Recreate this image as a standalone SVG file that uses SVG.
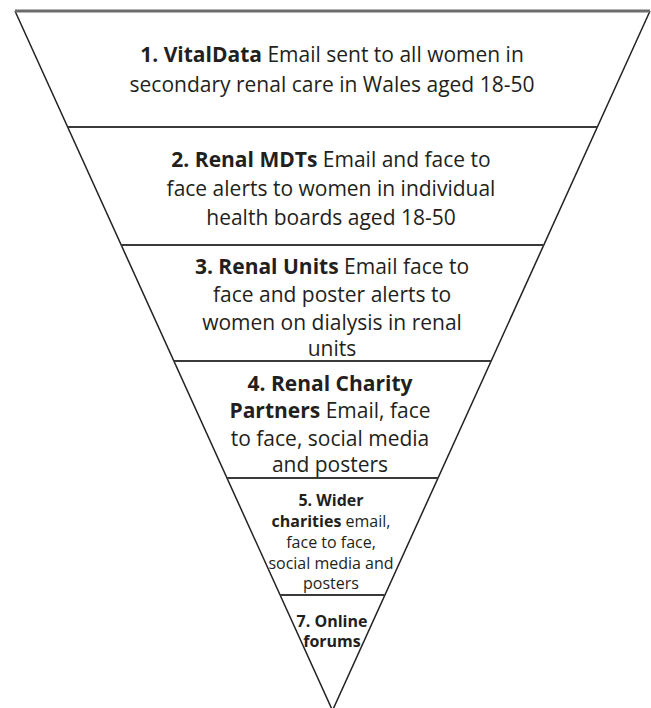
<svg xmlns="http://www.w3.org/2000/svg" width="651" height="708" viewBox="0 0 651 708">
<style>
.edge{stroke:#222;stroke-width:1.5;fill:none}
.div{stroke:#3a3a3a;stroke-width:2;fill:none}
.top{stroke:#6b6b6b;stroke-width:3;fill:none}
text{font-family:"Open Sans","Liberation Sans",sans-serif;fill:#231f20;text-anchor:middle}
.t{font-size:21px}
.s{font-size:16px}
.b{font-weight:bold}
</style>
<rect width="651" height="708" fill="#fff"/>
<g id="connectors">
<line class="edge" x1="15" y1="11" x2="332.5" y2="710.5"/>
<line class="edge" x1="650" y1="11" x2="332.5" y2="710.5"/>
<line class="top" x1="15" y1="11" x2="650" y2="11"/>
<line class="div" x1="67.6" y1="127" x2="597.4" y2="127"/>
<line class="div" x1="121.2" y1="245" x2="543.8" y2="245"/>
<line class="div" x1="173.9" y1="361" x2="491.1" y2="361"/>
<line class="div" x1="227" y1="478" x2="438" y2="478"/>
<line class="div" x1="280.1" y1="595" x2="384.9" y2="595"/>
</g>
<g id="node1">
<text class="t" x="332" y="62"><tspan class="b">1. VitalData</tspan> Email sent to all women in</text>
<text class="t" x="332" y="92">secondary renal care in Wales aged 18-50</text>
</g>
<g id="node2">
<text class="t" x="331" y="167"><tspan class="b">2. Renal MDTs</tspan>  Email and face to</text>
<text class="t" x="331" y="196">face alerts to women in individual</text>
<text class="t" x="331" y="225">health boards aged 18-50</text>
</g>
<g id="node3">
<text class="t" x="332" y="274"><tspan class="b">3. Renal Units</tspan> Email face to</text>
<text class="t" x="332" y="302">face and poster alerts to</text>
<text class="t" x="332" y="330">women on dialysis in renal</text>
<text class="t" x="332" y="356">units</text>
</g>
<g id="node4">
<text class="t b" x="330" y="391">4. Renal Charity</text>
<text class="t" x="330" y="418"><tspan class="b">Partners</tspan> Email, face</text>
<text class="t" x="330" y="446">to face, social media</text>
<text class="t" x="330" y="472">and posters</text>
</g>
<g id="node5">
<text class="s b" x="331" y="506">5. Wider</text>
<text class="s" x="331" y="527"><tspan class="b">charities</tspan> email,</text>
<text class="s" x="331" y="548">face to face,</text>
<text class="s" x="331" y="569">social media and</text>
<text class="s" x="331" y="589">posters</text>
</g>
<g id="node7">
<text class="s b" x="332" y="627">7. Online</text>
<text class="s b" x="332" y="647">forums</text>
</g>
</svg>
